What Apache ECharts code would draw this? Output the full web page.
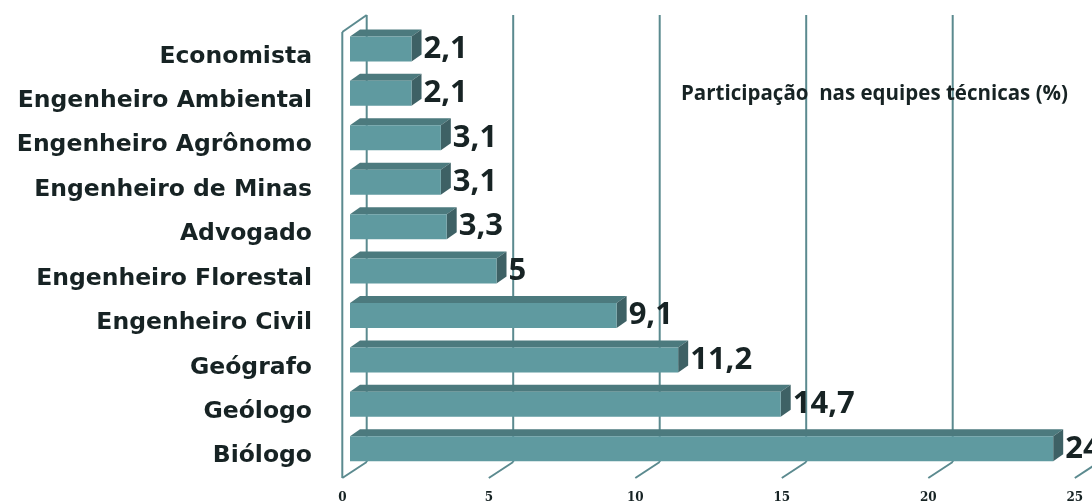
<!DOCTYPE html>
<html><head><meta charset="utf-8">
<script src="https://cdn.jsdelivr.net/npm/echarts@6/dist/echarts.min.js"></script>
<style>html,body{margin:0;padding:0;background:#fff}#c{width:1092px;height:504px}</style>
</head><body><div id="c"></div>
<script>
const categories = ['Economista','Engenheiro Ambiental','Engenheiro Agrônomo','Engenheiro de Minas','Advogado','Engenheiro Florestal','Engenheiro Civil','Geógrafo','Geólogo','Biólogo'];
const values = [2.1, 2.1, 3.1, 3.1, 3.3, 5, 9.1, 11.2, 14.7, 24];
const ticks = [0, 5, 10, 15, 20, 25];
const titleText = 'Participação  nas equipes técnicas (%)';

const FACE = '#5f9aa0', TOP = '#4c7a7e', SIDE = '#3e6165', LINE = '#5b8a8f', TXT = '#172324';
const DX = 10, DY = 7;          // bar depth
const FX = -7.7, FY_FLOOR = 478; // front plane offset
const BX = 16.7, BY_FLOOR = 462, BY_TOP = 15, FY_TOP = 32;

const chart = echarts.init(document.getElementById('c'));
chart.setOption({
  animation: false,
  title: { text: titleText, left: 676, top: 79, textStyle: { fontFamily: 'Open Sans', fontWeight: 'bold', fontSize: 20.5, color: TXT } },
  grid: { left: 350, right: 9.5, top: 26.7, bottom: 31.2 },
  xAxis: {
    type: 'value', min: 0, max: 25, interval: 5,
    axisLine: { show: false }, axisTick: { show: false }, splitLine: { show: false },
    axisLabel: { margin: 21, padding: [0, 15.4, 0, 0], fontFamily: 'DejaVu Serif', fontWeight: 'bold', fontSize: 12, color: TXT }
  },
  yAxis: {
    type: 'category', data: categories, inverse: true,
    axisLine: { show: false }, axisTick: { show: false },
    axisLabel: { margin: 38, verticalAlign: 'top', lineHeight: 15, fontFamily: 'DejaVu Sans', fontWeight: 'bold', fontSize: 23.5, color: TXT }
  },
  series: [
    {
      type: 'custom', silent: true, z: 1,
      data: ticks.map(t => [t]),
      encode: { x: 0 },
      renderItem: function (params, api) {
        const v = api.value(0);
        const x = api.coord([v, 0])[0];
        const ch = [];
        ch.push({ type: 'line', shape: { x1: x + BX, y1: BY_TOP, x2: x + BX, y2: BY_FLOOR }, style: { stroke: LINE, lineWidth: 2 } });
        ch.push({ type: 'line', shape: { x1: x + BX, y1: BY_FLOOR, x2: x + FX, y2: FY_FLOOR }, style: { stroke: LINE, lineWidth: 2 } });
        if (v === 0) {
          ch.push({ type: 'line', shape: { x1: x + FX, y1: FY_TOP, x2: x + FX, y2: FY_FLOOR }, style: { stroke: LINE, lineWidth: 2 } });
          ch.push({ type: 'line', shape: { x1: x + FX, y1: FY_TOP, x2: x + BX, y2: BY_TOP }, style: { stroke: LINE, lineWidth: 2 } });
        }
        return { type: 'group', children: ch };
      }
    },
    {
      type: 'custom', z: 2,
      data: values.map((v, i) => [v, i]),
      encode: { x: 0, y: 1 },
      renderItem: function (params, api) {
        const v = api.value(0), i = api.value(1);
        const p0 = api.coord([0, i]), p1 = api.coord([v, i]);
        const h = 25;
        const t = p0[1] - h / 2, b = p0[1] + h / 2;
        const x0 = p0[0], x1 = p1[0];
        const label = String(v).replace('.', ',');
        return { type: 'group', children: [
          { type: 'polygon', shape: { points: [[x0, t], [x1, t], [x1 + DX, t - DY], [x0 + DX, t - DY]] }, style: { fill: TOP } },
          { type: 'polygon', shape: { points: [[x1, t], [x1 + DX, t - DY], [x1 + DX, b - DY], [x1, b]] }, style: { fill: SIDE } },
          { type: 'rect', shape: { x: x0, y: t, width: x1 - x0, height: h }, style: { fill: FACE } },
          { type: 'text', x: x1 + DX + 2, y: p0[1], style: { text: label, fill: TXT, font: 'bold 31px "Open Sans"', verticalAlign: 'middle', align: 'left' } }
        ] };
      }
    }
  ]
});
</script></body></html>
